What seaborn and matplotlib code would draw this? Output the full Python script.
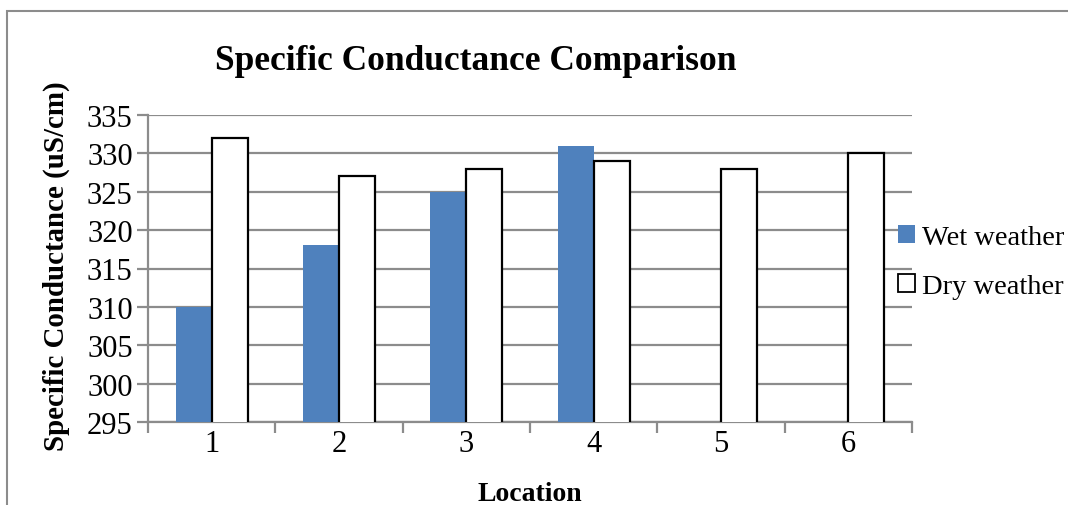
import matplotlib
matplotlib.use("Agg")
import matplotlib.pyplot as plt
import matplotlib.patches as mpatches
import numpy as np
import pandas as pd
import seaborn as sns

# Measured specific conductance per sampling location
locations = ["1", "2", "3", "4", "5", "6"]
wet_weather = [310, 318, 325, 331, np.nan, np.nan]
dry_weather = [332, 327, 328, 329, 328, 330]
series_names = ["Wet weather", "Dry weather"]
y_ticks = [295, 300, 305, 310, 315, 320, 325, 330, 335]

df = pd.DataFrame({
    "Location": locations * 2,
    "Value": wet_weather + dry_weather,
    "Series": [series_names[0]] * len(locations) + [series_names[1]] * len(locations),
})

sns.set_theme(style="white")
plt.rcParams["font.family"] = ["Liberation Serif", "DejaVu Serif"]
plt.rcParams["text.color"] = "black"
plt.rcParams["axes.labelcolor"] = "black"

fig = plt.figure(figsize=(10.68, 5.06), dpi=100)
ax = fig.add_axes([148 / 1068, 1 - 423 / 506, (912 - 148) / 1068, (423 - 116) / 506])

wet_color = "#4F81BD"
sns.barplot(data=df, x="Location", y="Value", hue="Series", order=locations,
            hue_order=series_names, palette=[wet_color, "white"],
            width=0.566, saturation=1, errorbar=None, legend=False, ax=ax, zorder=3)

# Style bars: wet series solid, dry series white with black outline
for cont, name in zip(ax.containers, series_names):
    for bar in cont:
        if name == series_names[0]:
            bar.set_edgecolor("none")
            bar.set_linewidth(0)
        else:
            bar.set_edgecolor("black")
            bar.set_linewidth(1.6)

ax.set_ylim(295, 335)
ax.set_xlim(-0.5, len(locations) - 0.5)
ax.set_yticks(y_ticks)
ax.set_yticklabels([str(v) for v in y_ticks], fontsize=22)
ax.set_xticks(range(len(locations)))
ax.set_xticklabels(locations, fontsize=22)
ax.set_xticks(np.arange(-0.5, len(locations)), minor=True)

grid_color = "#8C8C8C"
ax.yaxis.grid(True, color=grid_color, linewidth=1.6, zorder=0)
ax.xaxis.grid(False)
ax.set_axisbelow(True)
for side in ["top", "right"]:
    ax.spines[side].set_visible(False)
for side in ["left", "bottom"]:
    ax.spines[side].set_color(grid_color)
    ax.spines[side].set_linewidth(1.6)

ax.tick_params(axis="y", which="major", left=True, length=8, width=1.6,
               color=grid_color, labelcolor="black", pad=3)
ax.tick_params(axis="x", which="major", bottom=False, length=0, pad=5,
               labelcolor="black")
ax.tick_params(axis="x", which="minor", bottom=True, length=8, width=1.6,
               color=grid_color)

ax.set_xlabel("")
ax.set_ylabel("")
fig.text(530 / 1068, 1 - 495 / 506, "Location", ha="center", va="center",
         fontsize=20, fontweight="bold")
fig.text(56 / 1068, 1 - 266 / 506, "Specific Conductance (uS/cm)", ha="center",
         va="center", rotation=90, fontsize=20.8, fontweight="bold")
fig.text(476 / 1068, 1 - 62 / 506, "Specific Conductance Comparison", ha="center",
         va="center", fontsize=25.5, fontweight="bold")

handles = [
    mpatches.Patch(facecolor=wet_color, edgecolor="none", label=series_names[0]),
    mpatches.Patch(facecolor="white", edgecolor="black", linewidth=1.3,
                   label=series_names[1]),
]
fig.legend(handles=handles, loc="upper left", bbox_to_anchor=(898 / 1068, 1 - 226 / 506),
           frameon=False, fontsize=20.5, handlelength=0.6, handleheight=0.6,
           handletextpad=0.25, labelspacing=0.85, borderpad=0, borderaxespad=0)

# Chart frame
frame = mpatches.Rectangle((7 / 1068, -0.05), 1.2, 1 - 12 / 506 + 0.05,
                           transform=fig.transFigure, fill=False,
                           edgecolor="#8C8C8C", linewidth=1.5)
fig.patches.append(frame)

fig.savefig("out.png", dpi=100)
